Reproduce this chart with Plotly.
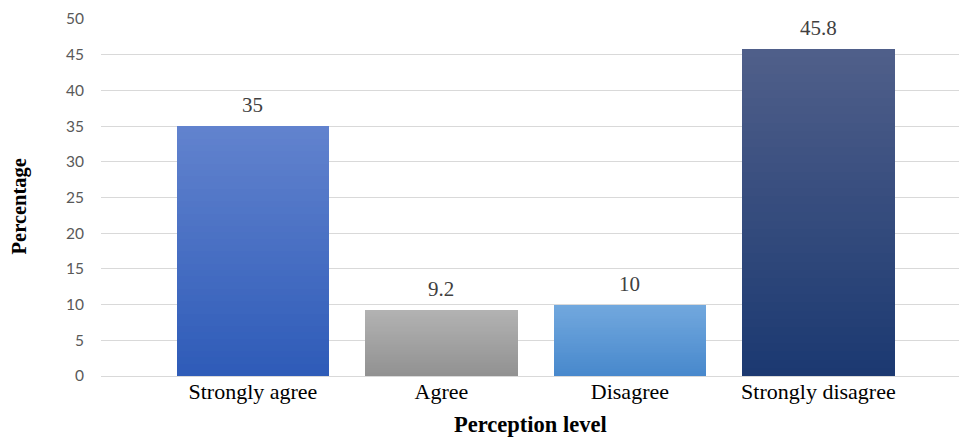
import plotly.graph_objects as go

# Survey responses: share of respondents per perception level (%)
categories = ["Strongly agree", "Agree", "Disagree", "Strongly disagree"]
percentages = [35, 9.2, 10, 45.8]
value_labels = ["35", "9.2", "10", "45.8"]
y_ticks = [0, 5, 10, 15, 20, 25, 30, 35, 40, 45, 50]

# top / bottom colours of each bar's vertical gradient
top_colors = ["#6283CE", "#B2B2B2", "#72A8DE", "#505F8A"]
bottom_colors = ["#2E5BB8", "#919191", "#4788CC", "#1B3971"]

BAR_WIDTH = 0.81
N_BANDS = 40


def hex_to_rgb(h):
    h = h.lstrip("#")
    return tuple(int(h[i:i + 2], 16) for i in (0, 2, 4))


def mix(c_top, c_bot, t):
    a, b = hex_to_rgb(c_top), hex_to_rgb(c_bot)
    r = [round(b[i] + (a[i] - b[i]) * t) for i in range(3)]
    return "rgb({},{},{})".format(*r)


fig = go.Figure()

# base bars (solid mid-tone)
fig.add_trace(go.Bar(
    x=categories, y=percentages, width=BAR_WIDTH,
    marker=dict(color=[mix(t, b, 0.5) for t, b in zip(top_colors, bottom_colors)],
                line=dict(width=0)),
    showlegend=False, hoverinfo="x+y",
))

# gradient shading: each bar split into horizontal bands, bottom dark -> top light
for k in range(N_BANDS):
    t = (k + 0.5) / N_BANDS
    fig.add_trace(go.Bar(
        x=categories,
        y=[v / N_BANDS for v in percentages],
        base=[v * k / N_BANDS for v in percentages],
        width=BAR_WIDTH,
        marker=dict(color=[mix(tc, bc, t) for tc, bc in zip(top_colors, bottom_colors)],
                    line=dict(width=0)),
        showlegend=False, hoverinfo="skip",
    ))

# value labels above the bars
for cat, v, lab in zip(categories, percentages, value_labels):
    fig.add_annotation(
        x=cat, y=v, text=lab, showarrow=False, yanchor="bottom", yshift=7,
        font=dict(family="Liberation Serif", size=21, color="#404040"),
    )

# axis titles
fig.add_annotation(
    x=0.5, y=0, xref="paper", yref="paper", yanchor="middle", yshift=-48,
    text="<b>Perception level</b>", showarrow=False,
    font=dict(family="Liberation Serif", size=22.5, color="#000000"),
)
fig.add_annotation(
    x=0, y=0.475, xref="paper", yref="paper", xanchor="center", xshift=-82,
    text="<b>Percentage</b>", showarrow=False, textangle=-90,
    font=dict(family="Liberation Serif", size=20.5, color="#000000"),
)

fig.update_layout(
    width=959, height=439,
    margin=dict(l=101, r=0, t=19, b=63),
    paper_bgcolor="white", plot_bgcolor="white",
    barmode="overlay", bargap=0,
    xaxis=dict(
        type="category", range=[-0.806, 3.746],
        showgrid=False, showline=False, zeroline=False, ticks="",
        tickfont=dict(family="Liberation Serif", size=22, color="#000000"),
    ),
    yaxis=dict(
        range=[0, 50], tickvals=y_ticks, ticktext=[str(v) for v in y_ticks],
        showgrid=True, gridcolor="#D9D9D9", gridwidth=1,
        zeroline=True, zerolinecolor="#D9D9D9", zerolinewidth=1,
        showline=False, ticks="", ticklabelstandoff=16,
        tickfont=dict(family="Lato", size=15.5, color="#595959"),
    ),
)

fig.write_html("out.html")
